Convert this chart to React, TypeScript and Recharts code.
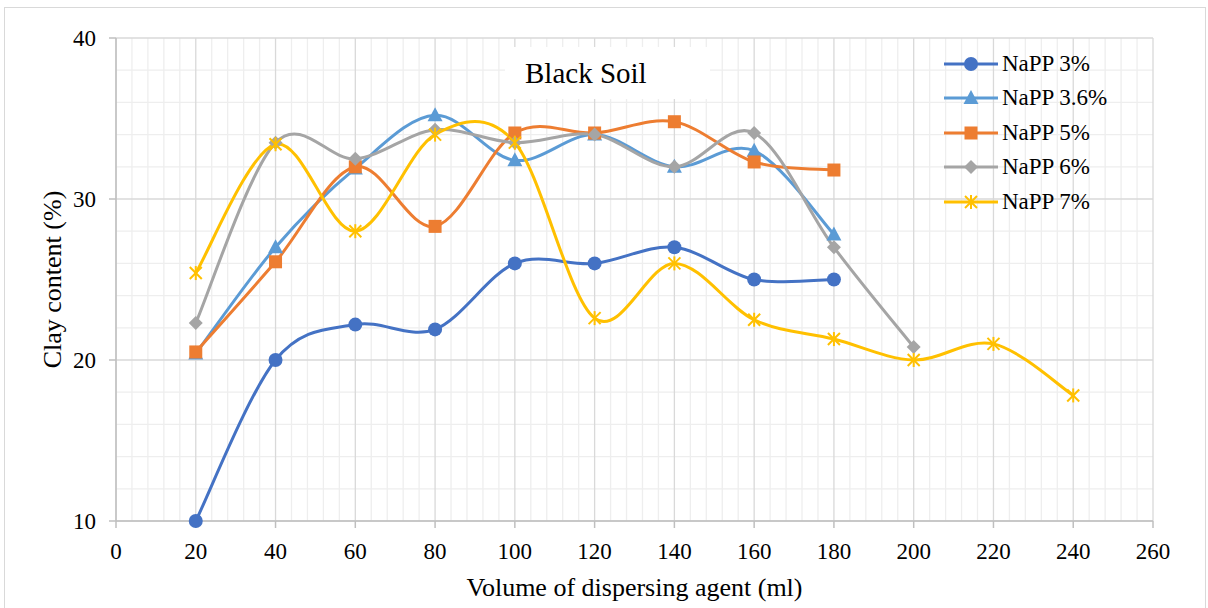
import React from 'react';
import { LineChart, Line, XAxis, YAxis, CartesianGrid } from 'recharts';

const xValues = [20, 40, 60, 80, 100, 120, 140, 160, 180, 200, 220, 240];
const napp3 = [10, 20, 22.2, 21.9, 26.0, 26.0, 27.0, 25.0, 25.0];
const napp36 = [20.4, 27.0, 31.9, 35.2, 32.4, 34.0, 32.0, 33.0, 27.8];
const napp5 = [20.5, 26.1, 32.0, 28.3, 34.1, 34.1, 34.8, 32.3, 31.8];
const napp6 = [22.3, 33.5, 32.5, 34.3, 33.5, 34.0, 32.0, 34.1, 27.0, 20.8];
const napp7 = [25.4, 33.4, 28.0, 34.0, 33.5, 22.6, 26.0, 22.5, 21.3, 20.0, 21.0, 17.8];

const xTicks = [0, 20, 40, 60, 80, 100, 120, 140, 160, 180, 200, 220, 240, 260];
const yTicks = [10, 20, 30, 40];
const minorXTicks = Array.from({ length: 66 }, (_, i) => i * 4).filter((v) => v % 20 !== 0);
const minorYTicks = [12, 14, 16, 18, 22, 24, 26, 28, 32, 34, 36, 38];

type Shape = 'circle' | 'triangle' | 'square' | 'diamond' | 'star';
const series: { key: string; name: string; color: string; shape: Shape; values: number[] }[] = [
  { key: 'n3', name: 'NaPP 3%', color: '#4472C4', shape: 'circle', values: napp3 },
  { key: 'n36', name: 'NaPP 3.6%', color: '#5B9BD5', shape: 'triangle', values: napp36 },
  { key: 'n5', name: 'NaPP 5%', color: '#ED7D31', shape: 'square', values: napp5 },
  { key: 'n6', name: 'NaPP 6%', color: '#A5A5A5', shape: 'diamond', values: napp6 },
  { key: 'n7', name: 'NaPP 7%', color: '#FFC000', shape: 'star', values: napp7 },
];

const data = xValues.map((x, i) => {
  const row: Record<string, number | undefined> = { x };
  series.forEach((s) => {
    row[s.key] = i < s.values.length ? s.values[i] : undefined;
  });
  return row;
});

const FONT = '"Liberation Serif", "Times New Roman", Times, serif';

// Excel-like smoothing (cardinal spline, Catmull-Rom control points)
const excelSmooth: any = (context: any) => {
  let pts: [number, number][] = [];
  return {
    areaStart() {},
    areaEnd() {},
    lineStart() {
      pts = [];
    },
    point(x: number, y: number) {
      pts.push([+x, +y]);
    },
    lineEnd() {
      const n = pts.length;
      if (n === 0) return;
      context.moveTo(pts[0][0], pts[0][1]);
      for (let i = 0; i < n - 1; i++) {
        const p0 = pts[i === 0 ? 0 : i - 1];
        const p1 = pts[i];
        const p2 = pts[i + 1];
        const p3 = pts[i + 2 < n ? i + 2 : n - 1];
        context.bezierCurveTo(
          p1[0] + (p2[0] - p0[0]) / 6,
          p1[1] + (p2[1] - p0[1]) / 6,
          p2[0] - (p3[0] - p1[0]) / 6,
          p2[1] - (p3[1] - p1[1]) / 6,
          p2[0],
          p2[1]
        );
      }
    },
  };
};

function Marker({ shape, color, cx, cy }: { shape: Shape; color: string; cx: number; cy: number }) {
  switch (shape) {
    case 'circle':
      return <circle cx={cx} cy={cy} r={7} fill={color} />;
    case 'triangle':
      return <polygon points={`${cx},${cy - 8} ${cx - 7.5},${cy + 6} ${cx + 7.5},${cy + 6}`} fill={color} />;
    case 'square':
      return <rect x={cx - 6.5} y={cy - 6.5} width={13} height={13} fill={color} />;
    case 'diamond':
      return <polygon points={`${cx},${cy - 7} ${cx + 7},${cy} ${cx},${cy + 7} ${cx - 7},${cy}`} fill={color} />;
    case 'star':
      return (
        <g stroke={color} strokeWidth={2}>
          <line x1={cx - 6} y1={cy - 6} x2={cx + 6} y2={cy + 6} />
          <line x1={cx - 6} y1={cy + 6} x2={cx + 6} y2={cy - 6} />
          <line x1={cx} y1={cy - 7} x2={cx} y2={cy + 7} />
        </g>
      );
  }
  return null;
}

const makeDot = (shape: Shape, color: string) => (props: any) => {
  const { cx, cy, index } = props;
  if (cx == null || cy == null || props.value == null) return <g key={`d-${index}`} />;
  return (
    <g key={`d-${index}`}>
      <Marker shape={shape} color={color} cx={cx} cy={cy} />
    </g>
  );
};

const YTitle = (props: any) => {
  const vb = props.viewBox || { x: 0, y: 38, width: 116, height: 483 };
  const x = vb.x + 61;
  const y = vb.y + vb.height / 2;
  return (
    <text x={x} y={y} transform={`rotate(-90 ${x} ${y})`} textAnchor="middle" fontFamily={FONT} fontSize={26} fill="#000">
      Clay content (%)
    </text>
  );
};

const tickStyle = { fontFamily: FONT, fontSize: 23, fill: '#000' };

export default function App() {
  return (
    <div style={{ position: 'absolute', left: 0, top: 0, width: 1208, height: 608, background: '#fff', overflow: 'hidden' }}>
      <div
        style={{
          position: 'absolute',
          left: 4,
          top: 7,
          width: 1202,
          height: 620,
          border: '1px solid #D9D9D9',
          boxSizing: 'border-box',
        }}
      />
      <div style={{ position: 'absolute', left: 0, top: 0 }}>
        <LineChart width={1208} height={608} data={data} margin={{ top: 38, right: 55, bottom: 0, left: 0 }}>
          <CartesianGrid horizontalValues={minorYTicks} verticalValues={minorXTicks} stroke="#EEEEEE" strokeWidth={1.3} />
          <CartesianGrid stroke="#D9D9D9" strokeWidth={1.3} />
          <XAxis
            dataKey="x"
            type="number"
            domain={[0, 260]}
            ticks={xTicks}
            interval={0}
            height={87}
            stroke="#BFBFBF"
            strokeWidth={1.5}
            tickSize={7}
            tickMargin={15}
            tick={tickStyle}
            label={{ value: 'Volume of dispersing agent (ml)', position: 'insideBottom', offset: 12, style: { fontFamily: FONT, fontSize: 26, fill: '#000' } }}
          />
          <YAxis
            type="number"
            domain={[10, 40]}
            ticks={yTicks}
            interval={0}
            width={116}
            stroke="#BFBFBF"
            strokeWidth={1.5}
            tickSize={7}
            tickMargin={13}
            tick={tickStyle}
            label={{ content: <YTitle /> } as any}
          />
          {series.map((s) => (
            <Line
              key={s.key}
              dataKey={s.key}
              name={s.name}
              type={excelSmooth}
              stroke={s.color}
              strokeWidth={3}
              dot={makeDot(s.shape, s.color)}
              activeDot={false}
              isAnimationActive={false}
            />
          ))}
        </LineChart>
      </div>
      <div
        style={{
          position: 'absolute',
          left: 505,
          top: 47,
          width: 205,
          height: 52,
          background: '#fff',
          boxSizing: 'border-box',
          paddingLeft: 20,
          fontFamily: FONT,
          fontSize: 29,
          lineHeight: '52px',
          color: '#000',
        }}
      >
        Black Soil
      </div>
      <div style={{ position: 'absolute', left: 944, top: 46.5 }}>
        {series.map((s) => (
          <div key={s.key} style={{ display: 'flex', alignItems: 'center', height: 34.5 }}>
            <svg width={56} height={34} style={{ display: 'block' }}>
              <line x1={0} y1={17} x2={54} y2={17} stroke={s.color} strokeWidth={3} />
              <Marker shape={s.shape} color={s.color} cx={27} cy={17} />
            </svg>
            <span style={{ fontFamily: FONT, fontSize: 23, lineHeight: '34px', color: '#000', whiteSpace: 'nowrap', marginLeft: 2 }}>
              {s.name}
            </span>
          </div>
        ))}
      </div>
    </div>
  );
}
